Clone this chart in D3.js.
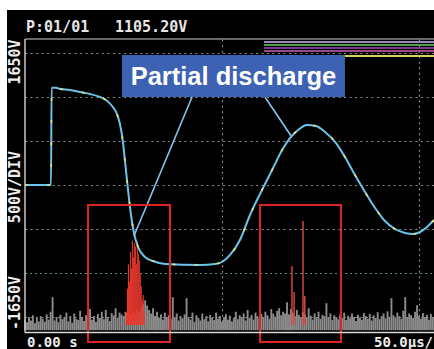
<!DOCTYPE html>
<html>
<head>
<meta charset="utf-8">
<script src="https://cdn.jsdelivr.net/npm/d3@7"></script>
<style>
  html, body { margin: 0; padding: 0; background: #fff; }
  svg { display: block; }
</style>
</head>
<body>
<svg id="scope" width="434" height="349"></svg>
<script>
// ---- Recorded waveform (time in µs, voltage in V) ----
const peakV = 1105.2;
const traceT = [0, 13.2, 13.5, 15.7, 17.8, 22.8, 27.9, 33.0, 38.1, 41.1, 44.2, 46.7, 48.2, 49.7, 50.8, 52.3, 53.8, 55.3, 57.4, 60.9, 65.0, 71.1, 88.8, 96.4, 100.0, 104.1, 109.1, 114.2, 120.3, 125.9, 130.5, 134.5, 138.6, 143.1, 147.7, 152.3, 157.4, 162.4, 167.5, 172.6, 177.7, 182.7, 187.8, 192.9, 197.0, 200.5, 204.6, 207.6];
const traceV = [0, 0, peakV, peakV, 1091, 1080, 1057, 1034, 1000, 966, 898, 807, 693, 489, 261, -57, -341, -545, -705, -818, -864, -898, -909, -898, -875, -795, -625, -341, -57, 193, 398, 534, 625, 682, 670, 602, 489, 318, 114, -80, -261, -409, -500, -545, -557, -534, -466, -398];

// ---- Partial-discharge pulses (time µs, peak V) ----
const pdLeftT = [51.5, 52.0, 52.5, 53.0, 53.5, 54.0, 54.5, 55.0, 55.5, 56.0, 56.5, 57.0, 57.5, 58.0, 58.5, 59.0, 59.5, 60.0, 60.5];
const pdLeftV = [-1450, -1180, -900, -1100, -760, -950, -630, -820, -660, -700, -900, -640, -780, -850, -1000, -1150, -1300, -1250, -1450];
const pdRightT = [135.5, 136.6, 141.1, 142.0];
const pdRightV = [-920, -1216, -409, -1261];

// ---- Background noise channel: height above floor (V), one sample per µs ----
const noise = [
  120, 90, 150, 110, 170, 80, 140, 100, 160, 130,
  95, 180, 120, 210, 375, 110, 150, 90, 175, 125,
  140, 200, 100, 160, 85, 190, 130, 115, 220, 150,
  105, 170, 135, 240, 120, 160, 95, 185, 140, 210,
  125, 230, 150, 105, 195, 170, 250, 140, 200, 180,
  160, 210, 150, 190, 170, 220, 180, 240, 200, 260,
  300, 340, 280, 230, 190, 250, 160, 210, 140, 180,
  120, 200, 150, 170, 130, 375, 140, 190, 110, 160,
  135, 180, 364, 150, 120, 200, 95, 170, 140, 110,
  190, 125, 160, 100, 175, 140, 115, 200, 130, 160,
  95, 150, 180, 120, 165, 100, 140, 210, 125, 170,
  150, 190, 110, 230, 140, 175, 120, 200, 160, 135,
  185, 145, 210, 170, 130, 240, 190, 155, 220, 250,
  170, 210, 190, 318, 180, 240, 200, 160, 230, 175,
  150, 205, 180, 140, 250, 165, 120, 190, 145, 210,
  130, 175, 160, 307, 140, 190, 115, 170, 150, 125,
  180, 140, 200, 115, 165, 135, 190, 150, 105, 175,
  145, 120, 195, 160, 130, 185, 110, 170, 140, 205,
  125, 160, 190, 135, 215, 150, 364, 170, 140, 200,
  160, 130, 220, 375, 150, 190, 170, 140, 210, 284,
  160, 130, 195, 150, 175, 120, 185, 145
];

// ---- Off-scale channels pinned to the top of the screen ----
const topChannelV = [1625, 1591, 1557, 1523, 1466];
const topChannelColor = ["#8e8ec8", "#4f9f55", "#7a3a8a", "#9a4a8a", "#d8cf5a"];
const topChannelStart = 121.3;

// ---- Scale / grid settings ----
const vRange = [-1650, 1650];
const tRange = [0, 207.6];
const gridV = [1500, 1000, 500, 0, -500, -1500];
const triggerV = -1000;
const gridT = [100, 200];

// ---- Annotations (data units) ----
const pdBoxes = [[32.0, 73.6], [119.3, 160.4]];
const pdBoxV = [-227, -1784];
const calloutFrom = [[84.8, 1000], [121.8, 1000]];
const calloutTo = [[55.3, -580], [135.0, 560]];
const labelBox = { t: [49.2, 162.4], v: [1477, 1000] };
const labelText = "Partial discharge";

const svg = d3.select("#scope");
const W = 434, H = 349;

const x = d3.scaleLinear().domain(tRange).range([25, 434]);
const y = d3.scaleLinear().domain(vRange).range([330.2, 39.8]);

// screen background
svg.append("rect").attr("width", W).attr("height", H).attr("fill", "#fff");
svg.append("rect").attr("x", 7).attr("y", 10).attr("width", W - 7).attr("height", H - 10).attr("fill", "#000");

// grid
const g = svg.append("g");
g.selectAll("line.h").data(gridV).join("line")
  .attr("x1", x(0)).attr("x2", W)
  .attr("y1", d => Math.round(y(d)) + 0.5).attr("y2", d => Math.round(y(d)) + 0.5)
  .attr("stroke", "#8a8a8a").attr("stroke-width", 1.2).attr("stroke-dasharray", "2,3.5");
g.append("line")
  .attr("x1", x(0)).attr("x2", W)
  .attr("y1", Math.round(y(triggerV)) + 0.5).attr("y2", Math.round(y(triggerV)) + 0.5)
  .attr("stroke", "#3f9a6a").attr("stroke-width", 1.2).attr("stroke-dasharray", "2,3");
g.selectAll("line.v").data(gridT).join("line")
  .attr("x1", d => Math.round(x(d)) + 0.5).attr("x2", d => Math.round(x(d)) + 0.5)
  .attr("y1", y(1650)).attr("y2", y(-1650))
  .attr("stroke", "#8a8a8a").attr("stroke-width", 1.2).attr("stroke-dasharray", "2,3.5");

// off-scale channels at the top
svg.append("g").selectAll("line").data(topChannelV).join("line")
  .attr("x1", x(topChannelStart)).attr("x2", W)
  .attr("y1", d => y(d)).attr("y2", d => y(d))
  .attr("stroke", (d, i) => topChannelColor[i]).attr("stroke-width", 2.2);

// noise channel
const floorV = -1650;
svg.append("g").selectAll("line").data(noise).join("line")
  .attr("x1", (d, i) => x(i)).attr("x2", (d, i) => x(i))
  .attr("y1", y(floorV)).attr("y2", d => y(floorV + d))
  .attr("stroke", "#8c8c8c").attr("stroke-width", 1.9);

// partial discharge pulses
const pdLeft = pdLeftT.map((t, i) => ({ t, v: pdLeftV[i] }));
const pdRight = pdRightT.map((t, i) => ({ t, v: pdRightV[i] }));
svg.append("g").selectAll("line").data(pdLeft).join("line")
  .attr("x1", d => x(d.t)).attr("x2", d => x(d.t))
  .attr("y1", y(floorV + 60)).attr("y2", d => y(d.v))
  .attr("stroke", "#e8382e").attr("stroke-width", 1.1);
svg.append("g").selectAll("line").data(pdRight).join("line")
  .attr("x1", d => x(d.t)).attr("x2", d => x(d.t))
  .attr("y1", y(floorV + 60)).attr("y2", d => y(d.v))
  .attr("stroke", "#e04a46").attr("stroke-width", 1.4);

// main voltage trace
const pts = traceT.map((t, i) => [t, traceV[i]]);
const line = d3.line().x(d => x(d[0])).y(d => y(d[1])).curve(d3.curveMonotoneX);
svg.append("path").attr("d", line(pts))
  .attr("fill", "none").attr("stroke", "#6cc4ea").attr("stroke-width", 2);
svg.append("path").attr("d", line(pts))
  .attr("fill", "none").attr("stroke", "#e6e27a").attr("stroke-width", 1.6)
  .attr("stroke-dasharray", "3,19");

// callout lines
svg.append("g").selectAll("line").data(calloutFrom).join("line")
  .attr("x1", d => x(d[0])).attr("y1", d => y(d[1]))
  .attr("x2", (d, i) => x(calloutTo[i][0])).attr("y2", (d, i) => y(calloutTo[i][1]))
  .attr("stroke", "#86c6ec").attr("stroke-width", 1.6);

// red boxes around the discharge regions
svg.append("g").selectAll("rect").data(pdBoxes).join("rect")
  .attr("x", d => x(d[0])).attr("width", d => x(d[1]) - x(d[0]))
  .attr("y", y(pdBoxV[0])).attr("height", y(pdBoxV[1]) - y(pdBoxV[0]))
  .attr("fill", "none").attr("stroke", "#e02424").attr("stroke-width", 2);

// label box
const lx0 = x(labelBox.t[0]), lx1 = x(labelBox.t[1]);
const ly0 = y(labelBox.v[0]), ly1 = y(labelBox.v[1]);
svg.append("rect").attr("x", lx0).attr("y", ly0)
  .attr("width", lx1 - lx0).attr("height", ly1 - ly0).attr("fill", "#3d62b3");
svg.append("text").attr("x", (lx0 + lx1) / 2).attr("y", ly0 + 30)
  .attr("text-anchor", "middle")
  .attr("font-family", "'Liberation Sans', Arial, sans-serif")
  .attr("font-weight", "bold").attr("font-size", 25.5).attr("fill", "#fff")
  .text(labelText);

// frame
svg.append("line").attr("x1", x(0)).attr("x2", W).attr("y1", 39).attr("y2", 39)
  .attr("stroke", "#8a8a8a").attr("stroke-width", 1.5);
svg.append("line").attr("x1", x(0)).attr("x2", x(0)).attr("y1", 39).attr("y2", 332.5)
  .attr("stroke", "#c8c8c8").attr("stroke-width", 1.5);
svg.append("line").attr("x1", x(0)).attr("x2", W).attr("y1", 332.5).attr("y2", 332.5)
  .attr("stroke", "#d8d8d8").attr("stroke-width", 1.5);

// texts
const mono = "'DejaVu Sans Mono', 'Liberation Mono', monospace";
svg.append("text").attr("x", 26).attr("y", 32)
  .attr("font-family", mono).attr("font-weight", "bold").attr("font-size", 15)
  .attr("fill", "#e6e6e6").text("P:01/01");
svg.append("text").attr("x", 115).attr("y", 32)
  .attr("font-family", mono).attr("font-weight", "bold").attr("font-size", 15)
  .attr("fill", "#e6e6e6").text(peakV.toFixed(2) + "V");

const sideLabels = [[vRange[1], "1650V", 62], [0, "500V/DIV", 187], [vRange[0], "-1650V", 303]];
svg.append("g").selectAll("text").data(sideLabels).join("text")
  .attr("transform", d => `translate(20,${d[2]}) rotate(-90)`)
  .attr("text-anchor", "middle")
  .attr("font-family", mono).attr("font-weight", "bold").attr("font-size", 15)
  .attr("fill", "#ececec").text(d => d[1]);

svg.append("text").attr("x", 27).attr("y", 347)
  .attr("font-family", mono).attr("font-weight", "bold").attr("font-size", 14)
  .attr("fill", "#ececec").text("0.00 s");
svg.append("text").attr("x", 374).attr("y", 347)
  .attr("font-family", mono).attr("font-weight", "bold").attr("font-size", 14)
  .attr("fill", "#ececec").text("50.0µs/");
</script>
</body>
</html>
